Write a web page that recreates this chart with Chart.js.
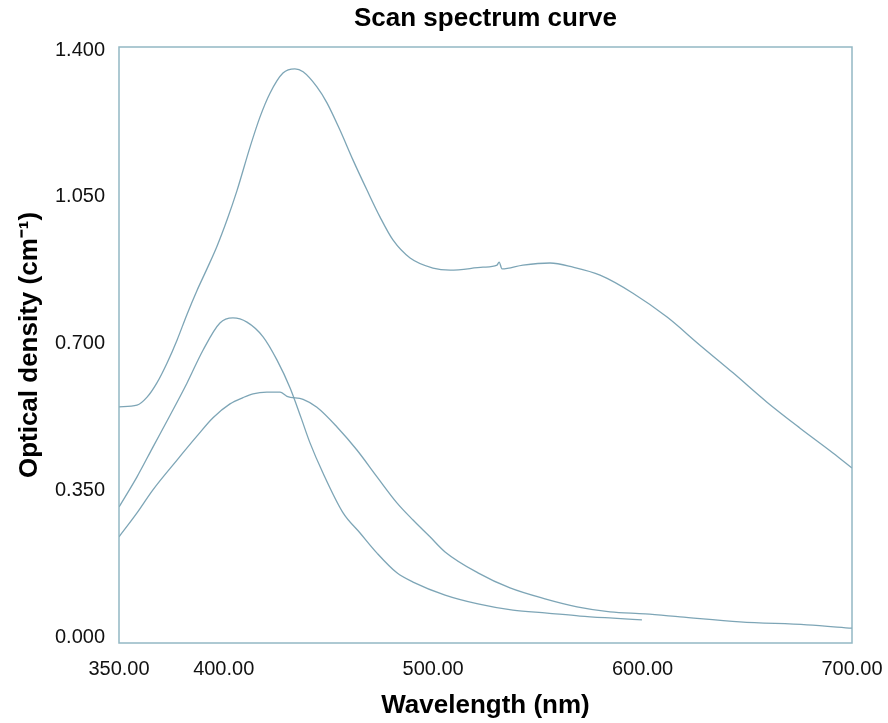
<!DOCTYPE html>
<html>
<head>
<meta charset="utf-8">
<script src="https://cdn.jsdelivr.net/npm/chart.js@4.4.1/dist/chart.umd.min.js"></script>
<style>
  html, body { margin: 0; padding: 0; background: #fff; }
  #wrap { width: 888px; height: 723px; }
</style>
</head>
<body>
<div id="wrap"><canvas id="spectrum"></canvas></div>
<script>
// Scan spectrum data (wavelength nm / optical density)
var wlA = [350, 358.6, 363.4, 368.1, 372.9, 377.7, 382.5, 387.2, 392.0, 396.8, 401.6, 406.3, 412.6, 417.3, 422.1, 428.3, 434.0, 437.9, 444.5, 449.3, 455.5, 461.7, 468.4, 474.6, 480.8, 489.0, 499.9, 508.1, 523.8, 530.5, 531.5, 532.9, 542.9, 555.8, 566.8, 579.7, 595.4, 611.7, 627.4, 643.2, 659.4, 675.2, 690.9, 700];
var odA = [0.549, 0.553, 0.572, 0.606, 0.653, 0.708, 0.770, 0.826, 0.878, 0.932, 0.995, 1.064, 1.169, 1.240, 1.297, 1.345, 1.355, 1.348, 1.312, 1.274, 1.209, 1.138, 1.066, 1.002, 0.947, 0.904, 0.880, 0.875, 0.882, 0.887, 0.894, 0.878, 0.887, 0.892, 0.882, 0.863, 0.820, 0.763, 0.696, 0.630, 0.560, 0.498, 0.439, 0.403];

var wlB = [350, 358.6, 366.2, 374.4, 382.5, 390.1, 398.2, 404.4, 411.1, 418.8, 425.4, 431.7, 437.0, 441.2, 447.4, 457.0, 465.1, 473.2, 482.7, 490.4, 505.7, 521.4, 538.1, 554.4, 570.1, 585.9, 599.7];
var odB = [0.310, 0.382, 0.453, 0.529, 0.606, 0.684, 0.749, 0.761, 0.751, 0.716, 0.661, 0.594, 0.522, 0.463, 0.391, 0.296, 0.248, 0.200, 0.153, 0.131, 0.100, 0.079, 0.064, 0.057, 0.050, 0.045, 0.041];

var wlC = [350, 358.6, 366.2, 377.7, 387.2, 394.9, 403.0, 409.2, 414.0, 420.6, 426.9, 430.2, 437.9, 444.5, 454.1, 463.6, 473.2, 482.7, 490.4, 498.5, 505.7, 521.4, 536.7, 553.4, 568.7, 584.5, 601.2, 617.9, 646.5, 678.5, 700];
var odC = [0.239, 0.296, 0.351, 0.422, 0.479, 0.523, 0.556, 0.571, 0.580, 0.584, 0.584, 0.574, 0.567, 0.548, 0.501, 0.446, 0.382, 0.320, 0.279, 0.239, 0.203, 0.153, 0.117, 0.091, 0.072, 0.060, 0.055, 0.048, 0.036, 0.029, 0.021];

var xTicks = [350, 400, 500, 600, 700];
var yTicks = [0, 0.35, 0.70, 1.05, 1.40];

var lineColor = "rgba(118, 160, 178, 0.95)";
var fontFam = "Liberation Sans, Arial, sans-serif";

function toPoints(xs, ys) {
  return xs.map(function (x, i) { return { x: x, y: ys[i] }; });
}

function curve(xs, ys) {
  return {
    data: toPoints(xs, ys),
    borderColor: lineColor,
    borderWidth: 1.3,
    pointRadius: 0,
    fill: false,
    tension: 0.4,
    cubicInterpolationMode: "monotone"
  };
}

// box round the plot area
var frame = {
  id: "frame",
  afterDraw: function (chart) {
    var a = chart.chartArea, c = chart.ctx;
    c.save();
    c.strokeStyle = "rgba(135, 175, 190, 0.9)";
    c.lineWidth = 1.5;
    c.strokeRect(a.left, a.top, a.right - a.left, a.bottom - a.top);
    c.restore();
  }
};

var ctx = document.getElementById("spectrum");
var chart = new Chart(ctx, {
  type: "line",
  data: {
    datasets: [curve(wlA, odA), curve(wlB, odB), curve(wlC, odC)]
  },
  options: {
    responsive: true,
    maintainAspectRatio: false,
    animation: false,
    layout: { padding: { right: 36, left: 0, top: 0, bottom: 0 } },
    plugins: {
      legend: { display: false },
      tooltip: { enabled: false },
      title: { display: false }
    },
    scales: {
      // top axis only carries the chart title, centred over the plot
      x2: {
        type: "linear",
        position: "top",
        min: 350,
        max: 700,
        grid: { display: false },
        border: { display: false },
        ticks: { display: false },
        afterFit: function (axis) { axis.height = 47; axis.paddingLeft = 0; axis.paddingRight = 0; },
        title: {
          display: true,
          text: "Scan spectrum curve",
          color: "#000",
          font: { family: fontFam, size: 26, weight: "bold" },
          padding: { top: 3, bottom: 0 }
        }
      },
      x: {
        type: "linear",
        position: "bottom",
        min: 350,
        max: 700,
        grid: { display: false, drawTicks: false },
        border: { display: false },
        afterBuildTicks: function (axis) {
          axis.ticks = xTicks.map(function (v) { return { value: v }; });
        },
        afterFit: function (axis) { axis.height = 80; axis.paddingLeft = 0; axis.paddingRight = 0; },
        ticks: {
          color: "#111",
          padding: 14,
          maxRotation: 0,
          autoSkip: false,
          font: { family: fontFam, size: 20 },
          callback: function (v) { return Number(v).toFixed(2); }
        },
        title: {
          display: true,
          text: "Wavelength (nm)",
          color: "#000",
          font: { family: fontFam, size: 26, weight: "bold" },
          padding: { top: 0, bottom: 2 }
        }
      },
      y: {
        min: -0.0143,
        max: 1.4072,
        grid: { display: false, drawTicks: false },
        border: { display: false },
        afterBuildTicks: function (axis) {
          axis.ticks = yTicks.map(function (v) { return { value: v }; });
        },
        afterFit: function (axis) { axis.width = 119; },
        ticks: {
          color: "#111",
          padding: 14,
          autoSkip: false,
          font: { family: fontFam, size: 20 },
          callback: function (v) { return Number(v).toFixed(3); }
        },
        title: {
          display: true,
          text: "Optical density (cm\u207B\u00B9)",
          color: "#000",
          font: { family: fontFam, size: 26, weight: "bold" },
          padding: { top: 14, bottom: 0 }
        }
      }
    }
  },
  plugins: [frame]
});
</script>
</body>
</html>
